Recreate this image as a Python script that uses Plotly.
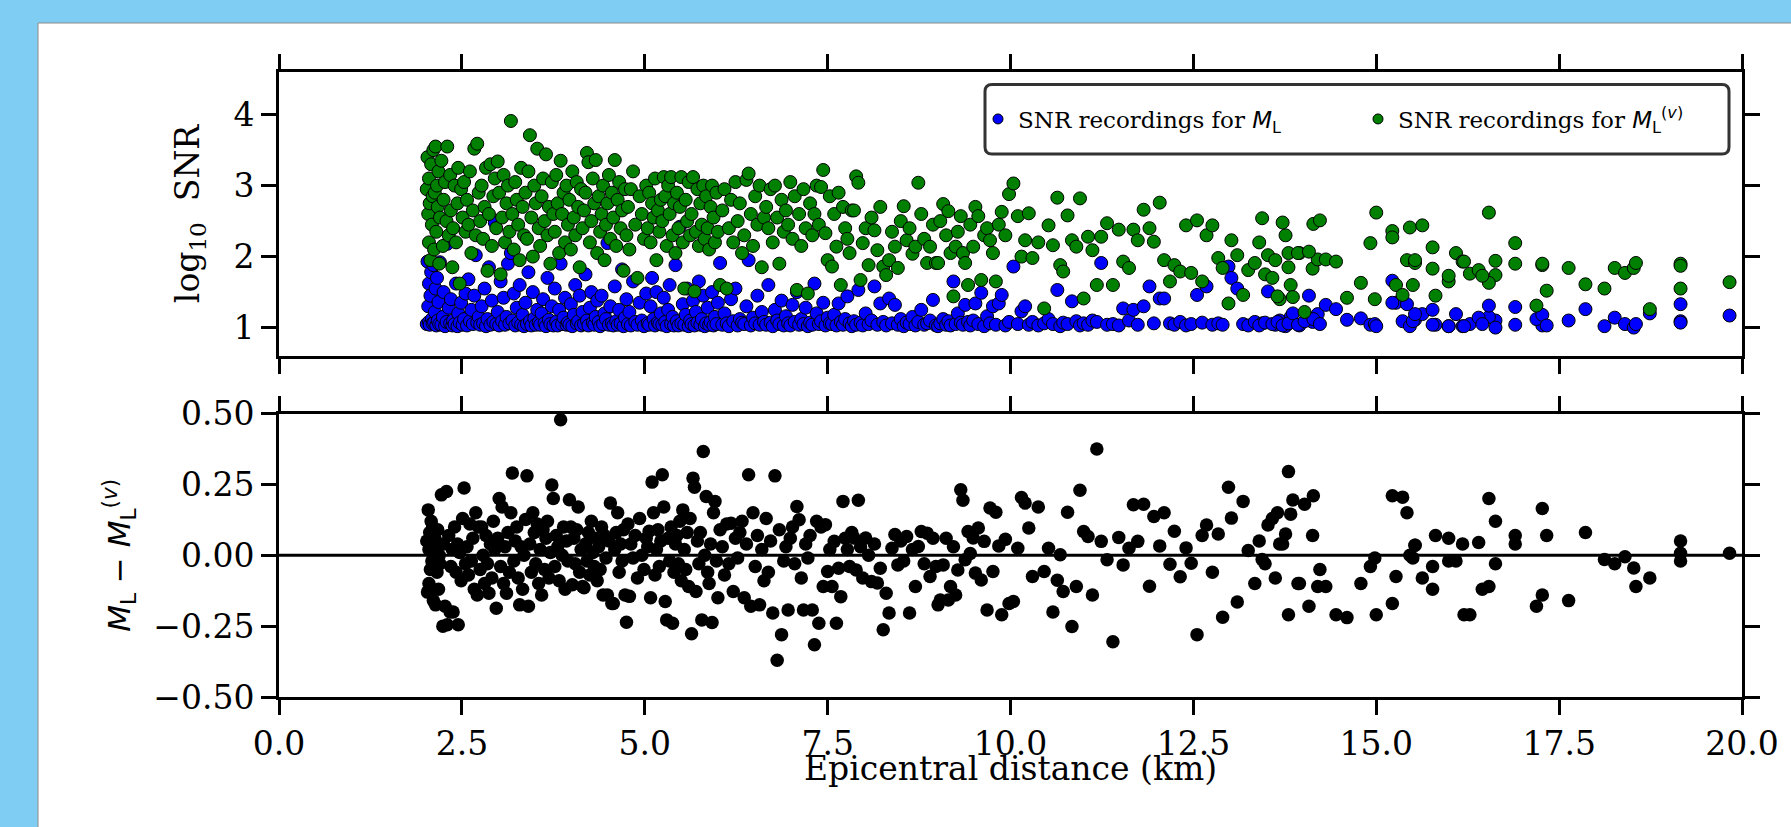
import plotly.graph_objects as go

# ---------------- data ----------------
distance_km = [
    2.02, 2.03, 2.04, 2.05, 2.05, 2.06, 2.07, 2.08, 2.09, 2.10,
    2.11, 2.12, 2.13, 2.14, 2.15, 2.16, 2.17, 2.18, 2.19, 2.20,
    2.22, 2.24, 2.25, 2.27, 2.29, 2.30, 2.32, 2.34, 2.35, 2.37,
    2.38, 2.40, 2.42, 2.44, 2.45, 2.47, 2.49, 2.51, 2.53, 2.55,
    2.57, 2.59, 2.61, 2.63, 2.65, 2.67, 2.69, 2.71, 2.73, 2.75,
    2.77, 2.79, 2.81, 2.83, 2.85, 2.87, 2.89, 2.91, 2.93, 2.95,
    2.97, 2.99, 3.01, 3.03, 3.05, 3.07, 3.09, 3.11, 3.13, 3.15,
    3.17, 3.19, 3.21, 3.23, 3.25, 3.27, 3.29, 3.31, 3.33, 3.35,
    3.37, 3.39, 3.41, 3.43, 3.45, 3.47, 3.49, 3.51, 3.53, 3.55,
    3.57, 3.59, 3.61, 3.63, 3.65, 3.67, 3.69, 3.71, 3.73, 3.75,
    3.77, 3.79, 3.81, 3.83, 3.85, 3.87, 3.89, 3.91, 3.93, 3.95,
    3.97, 3.99, 4.01, 4.03, 4.05, 4.07, 4.09, 4.11, 4.13, 4.15,
    4.17, 4.19, 4.21, 4.23, 4.25, 4.27, 4.29, 4.31, 4.33, 4.35,
    4.37, 4.39, 4.41, 4.43, 4.45, 4.47, 4.49, 4.51, 4.53, 4.55,
    4.57, 4.59, 4.61, 4.63, 4.65, 4.67, 4.69, 4.71, 4.73, 4.75,
    4.77, 4.79, 4.81, 4.84, 4.87, 4.90, 4.93, 4.96, 4.99, 5.02,
    5.04, 5.06, 5.08, 5.10, 5.12, 5.14, 5.16, 5.18, 5.20, 5.22,
    5.24, 5.26, 5.28, 5.30, 5.32, 5.34, 5.36, 5.38, 5.40, 5.42,
    5.44, 5.46, 5.48, 5.50, 5.52, 5.54, 5.56, 5.58, 5.60, 5.62,
    5.64, 5.66, 5.68, 5.70, 5.72, 5.74, 5.76, 5.78, 5.80, 5.82,
    5.84, 5.86, 5.88, 5.90, 5.92, 5.94, 5.96, 5.98, 6.00, 6.03,
    6.06, 6.09, 6.12, 6.15, 6.18, 6.21, 6.24, 6.27, 6.30, 6.33,
    6.36, 6.39, 6.42, 6.45, 6.48, 6.51, 6.54, 6.57, 6.60, 6.63,
    6.66, 6.69, 6.72, 6.75, 6.78, 6.81, 6.84, 6.87, 6.90, 6.93,
    6.96, 6.99, 7.02, 7.05, 7.08, 7.11, 7.14, 7.17, 7.20, 7.23,
    7.26, 7.29, 7.32, 7.35, 7.38, 7.41, 7.44, 7.47, 7.50, 7.53,
    7.56, 7.59, 7.62, 7.65, 7.68, 7.71, 7.74, 7.77, 7.80, 7.83,
    7.86, 7.89, 7.92, 7.95, 7.98, 8.02, 8.06, 8.10, 8.14, 8.18,
    8.22, 8.26, 8.30, 8.34, 8.38, 8.42, 8.46, 8.50, 8.54, 8.58,
    8.62, 8.66, 8.70, 8.74, 8.78, 8.82, 8.86, 8.90, 8.94, 8.98,
    9.01, 9.04, 9.08, 9.12, 9.15, 9.18, 9.22, 9.25, 9.28, 9.32,
    9.35, 9.38, 9.42, 9.45, 9.49, 9.52, 9.56, 9.60, 9.64, 9.68,
    9.72, 9.76, 9.80, 9.84, 9.88, 9.93, 9.98, 10.04, 10.10, 10.15,
    10.20, 10.25, 10.30, 10.38, 10.46, 10.52, 10.58, 10.64, 10.68, 10.72,
    10.78, 10.84, 10.90, 10.95, 11.00, 11.06, 11.12, 11.18, 11.24, 11.32,
    11.40, 11.48, 11.54, 11.62, 11.68, 11.74, 11.82, 11.90, 11.96, 12.04,
    12.10, 12.18, 12.24, 12.32, 12.40, 12.47, 12.55, 12.62, 12.68, 12.76,
    12.84, 12.90, 12.98, 13.02, 13.10, 13.18, 13.25, 13.34, 13.44, 13.52,
    13.40, 13.48, 13.62, 13.68, 13.76, 13.80, 13.83, 13.95, 14.13, 14.20,
    13.58, 13.65, 13.72, 13.80, 13.86, 13.93, 14.02, 14.08, 14.14, 14.23,
    14.31, 14.45, 14.60, 14.79, 14.92, 14.98, 15.00, 15.22, 15.27, 15.36,
    15.42, 15.46, 15.53, 15.63, 15.77, 15.81, 15.99, 16.09, 16.18, 16.28,
    15.22, 15.50, 15.53, 15.77, 15.99, 16.20, 16.63, 16.90, 16.54, 17.27,
    16.40, 16.45, 16.54, 16.63, 16.90, 17.19, 17.27, 17.33, 17.63, 17.86,
    18.12, 18.26, 18.40, 18.52, 18.55, 18.74, 19.16, 19.16, 19.16, 19.83,
]

log_snr_ml = [
    1.05, 1.93, 1.30, 1.08, 1.62, 1.04, 1.45, 1.78, 1.12, 1.06,
    1.88, 1.07, 1.22, 1.55, 1.03, 1.70, 1.10, 1.36, 1.05, 1.92,
    1.04, 1.15, 1.50, 1.02, 1.08, 2.18, 1.28, 1.06, 1.40, 1.03,
    1.10, 1.05, 1.62, 1.02, 1.20, 1.07, 1.35, 1.04, 1.12, 1.48,
    1.03, 1.68, 1.09, 1.25, 1.05, 1.45, 2.02, 1.07, 1.15, 1.04,
    1.30, 1.06, 1.55, 1.02, 1.12, 1.85, 1.04, 1.38, 1.08, 2.48,
    1.05, 1.22, 1.03, 1.65, 1.09, 1.42, 1.04, 1.15, 1.90, 1.06,
    2.05, 1.10, 1.48, 1.03, 1.28, 1.07, 1.60, 1.04, 1.18, 1.02,
    1.35, 1.05, 1.78, 1.09, 1.03, 1.50, 1.13, 1.04, 1.25, 1.07,
    1.04, 1.20, 1.40, 1.06, 1.02, 1.70, 1.11, 1.05, 1.30, 1.03,
    1.55, 1.08, 1.03, 1.25, 1.90, 1.05, 1.14, 1.42, 1.04, 1.07,
    1.04, 1.33, 1.02, 1.18, 1.60, 1.06, 1.09, 1.45, 1.03, 1.22,
    1.05, 1.75, 1.10, 1.03, 1.28, 1.50, 1.07, 1.04, 1.15, 1.38,
    1.08, 1.02, 1.45, 1.05, 1.20, 1.12, 2.19, 1.04, 1.30, 1.06,
    1.03, 1.58, 1.09, 1.04, 1.25, 1.06, 1.82, 1.02, 1.14, 1.40,
    1.05, 1.22, 1.03, 1.65, 1.08, 1.04, 1.35, 1.10, 1.02, 1.48,
    1.06, 1.04, 1.30, 1.70, 1.12, 1.03, 1.50, 1.07, 1.05, 1.20,
    1.04, 1.42, 1.08, 1.02, 1.25, 1.60, 1.05, 1.15, 1.03, 1.88,
    1.09, 1.03, 2.42, 1.06, 1.33, 1.04, 1.18, 1.55, 1.02, 1.10,
    1.05, 1.38, 1.03, 1.22, 1.07, 1.65, 1.04, 1.12, 1.45, 1.02,
    1.06, 1.28, 1.04, 1.08, 1.50, 1.03, 1.15, 1.05, 1.35, 1.91,
    1.04, 1.20, 1.06, 1.02, 1.40, 1.09, 1.55, 1.03, 1.12, 1.07,
    1.05, 1.30, 1.95, 1.03, 1.14, 1.06, 1.45, 1.04, 1.22, 1.08,
    1.04, 1.60, 1.07, 1.02, 1.25, 1.10, 1.05, 1.38, 1.03, 1.16,
    1.06, 1.03, 1.32, 1.08, 1.50, 1.04, 1.12, 1.05, 1.28, 1.02,
    1.07, 1.04, 1.62, 1.20, 1.05, 1.09, 1.35, 1.03, 1.14, 1.06,
    1.05, 1.18, 1.03, 1.34, 1.08, 1.04, 1.12, 1.44, 1.06, 1.02,
    1.09, 1.04, 1.53, 1.07, 1.03, 1.20, 1.05, 1.10, 1.58, 1.04,
    1.34, 1.08, 1.03, 1.41, 1.06, 1.32, 1.04, 1.12, 1.02, 1.07,
    1.05, 1.15, 1.03, 1.08, 1.25, 1.04, 1.06, 1.10, 1.39, 1.03,
    1.02, 1.06, 1.12, 1.04, 1.09, 1.03, 1.65, 1.05, 1.20, 1.07,
    1.04, 1.32, 1.08, 1.03, 1.10, 1.34, 1.05, 1.49, 1.02, 1.16,
    1.06, 1.30, 1.04, 1.34, 1.46, 1.03, 1.08, 1.86, 1.05, 1.23,
    1.30, 1.04, 1.08, 1.03, 1.06, 1.12, 1.05, 1.53, 1.02, 1.07,
    1.05, 1.37, 1.09, 1.03, 1.06, 1.04, 1.10, 1.08, 1.91, 1.04,
    1.05, 1.03, 1.27, 1.10, 1.25, 1.04, 1.30, 1.58, 1.06, 1.41,
    1.41, 1.06, 1.04, 1.08, 1.03, 1.05, 1.46, 1.07, 1.58, 1.04,
    1.06, 1.04, 1.86, 1.70, 1.55, 1.05, 1.03, 1.08, 1.06, 1.51,
    1.03, 1.07, 1.04, 1.10, 1.02, 1.06, 1.15, 1.03, 1.08, 1.19,
    1.05, 1.08, 1.03, 1.06, 1.20, 1.04, 1.09, 1.45, 1.12, 1.05,
    1.32, 1.26, 1.11, 1.13, 1.04, 1.05, 1.02, 1.66, 1.35, 1.09,
    1.33, 1.02, 1.11, 1.19, 1.25, 1.04, 1.02, 1.19, 1.02, 1.05,
    1.35, 1.09, 1.19, 1.04, 1.02, 1.02, 1.10, 1.04, 1.15, 1.03,
    1.14, 1.05, 1.31, 1.00, 1.29, 1.12, 1.18, 1.03, 1.10, 1.26,
    1.02, 1.14, 1.05, 1.00, 1.05, 1.20, 1.33, 1.09, 1.07, 1.17,
]

log_snr_mlv = [
    2.95, 3.40, 2.60, 2.20, 3.10, 2.75, 1.95, 3.30, 2.45, 2.85,
    3.50, 2.10, 2.90, 3.55, 2.35, 3.00, 2.70, 3.20, 1.90, 2.55,
    3.35, 2.15, 2.80, 3.05, 2.50, 3.55, 2.30, 3.15, 2.65, 1.85,
    2.40, 3.00, 2.20, 2.75, 3.25, 1.62, 2.95, 2.55, 3.05, 2.35,
    2.80, 2.45, 3.20, 2.05, 2.65, 3.52, 2.30, 3.59, 2.90, 2.50,
    3.00, 2.25, 2.70, 3.25, 1.80, 2.60, 3.30, 2.15, 2.85, 3.10,
    2.40, 3.34, 2.90, 1.75, 2.55, 3.15, 2.20, 2.75, 3.00, 2.35,
    3.91, 2.60, 2.10, 3.05, 2.80, 2.45, 1.95, 3.25, 2.70, 2.30,
    2.90, 2.25, 3.20, 3.71, 2.55, 2.00, 3.00, 2.75, 3.52, 2.40,
    2.15, 2.85, 3.10, 2.50, 3.44, 2.30, 2.70, 1.90, 3.05, 2.60,
    2.35, 3.15, 2.75, 2.05, 3.35, 2.60, 2.90, 2.20, 3.00, 2.45,
    2.80, 2.10, 3.20, 2.55, 2.30, 3.05, 2.70, 1.85, 2.95, 2.40,
    2.65, 2.90, 3.46, 3.33, 2.20, 2.50, 3.10, 2.75, 3.36, 2.05,
    2.85, 2.35, 2.60, 3.00, 1.95, 2.45, 2.75, 3.15, 2.25, 2.90,
    2.55, 3.36, 2.15, 2.80, 3.05, 2.40, 2.65, 1.80, 2.95, 2.30,
    2.70, 2.10, 2.95, 3.20, 2.45, 1.70, 2.85, 2.60, 2.25, 3.00,
    2.40, 2.90, 2.20, 2.75, 2.55, 3.10, 1.95, 2.65, 2.35, 2.80,
    2.50, 3.12, 2.85, 2.15, 3.00, 2.60, 3.12, 2.30, 2.75, 2.05,
    2.90, 2.40, 2.70, 3.12, 2.20, 1.55, 2.80, 2.50, 3.05, 2.30,
    2.60, 3.12, 1.51, 2.35, 2.95, 2.15, 2.75, 2.45, 3.00, 2.25,
    2.85, 2.40, 2.10, 2.70, 3.00, 2.55, 2.20, 2.90, 2.35, 1.60,
    2.65, 2.95, 1.55, 2.40, 2.80, 2.20, 3.05, 2.50, 2.75, 2.05,
    2.30, 3.08, 3.17, 2.60, 2.15, 2.85, 2.45, 3.00, 1.85, 2.55,
    2.70, 2.40, 2.95, 2.20, 3.00, 2.55, 1.90, 2.80, 2.35, 2.65,
    2.45, 3.05, 2.25, 2.85, 1.53, 2.60, 2.15, 2.95, 2.40, 1.48,
    2.75, 2.30, 2.60, 3.00, 2.45, 2.98, 3.22, 2.33, 1.95, 2.85,
    1.86, 2.60, 2.14, 2.90, 1.60, 2.70, 2.40, 2.25, 2.05, 2.65,
    2.65, 3.13, 3.04, 1.67, 2.19, 2.40, 1.88, 2.55, 2.37, 2.09,
    2.70, 1.86, 1.74, 1.95, 2.35, 2.14, 1.84, 2.50, 2.71, 2.23,
    2.40, 2.04, 2.14, 3.04, 2.60, 2.25, 1.91, 2.14, 2.45, 1.91,
    1.91, 2.50, 2.74, 2.30, 2.64, 2.05, 1.44, 2.14, 2.35, 2.57,
    2.05, 1.91, 1.60, 2.45, 2.14, 2.70, 2.57, 1.67, 2.30, 2.40,
    2.23, 2.05, 1.65, 2.45, 2.63, 2.30, 2.88, 3.03, 2.57, 2.00,
    2.23, 2.61, 1.98, 2.20, 1.27, 2.44, 2.16, 2.83, 1.88, 1.79,
    2.58, 2.23, 2.14, 2.82, 1.41, 2.28, 2.09, 1.60, 2.28, 2.47,
    1.60, 2.38, 1.93, 1.84, 2.38, 2.23, 2.66, 2.40, 2.21, 2.76,
    1.95, 1.65, 1.88, 1.79, 2.44, 1.77, 2.51, 1.65, 2.30, 2.44,
    1.98, 1.84, 1.34, 2.23, 2.02, 1.46, 1.81, 1.91, 2.54, 2.02,
    2.20, 1.75, 1.95, 1.40, 2.30, 1.85, 1.60, 2.05, 1.83, 1.96,
    1.70, 1.44, 2.48, 2.05, 1.43, 2.05, 1.22, 2.07, 2.46, 2.51,
    1.96, 1.93, 1.42, 1.63, 2.19, 1.40, 2.62, 2.36, 1.60, 1.46,
    1.95, 2.41, 1.91, 2.44, 2.13, 1.45, 1.65, 2.05, 1.93, 1.76,
    2.27, 1.60, 1.95, 1.83, 1.73, 1.93, 1.74, 1.90, 1.63, 1.88,
    1.81, 1.73, 2.62, 1.94, 2.19, 1.31, 1.90, 1.52, 1.84, 1.61,
    1.55, 1.84, 1.77, 1.84, 1.91, 1.26, 1.90, 1.55, 1.87, 1.64,
]

ml_minus_mlv = [
    0.05, -0.13, 0.16, 0.02, -0.10, 0.08, -0.05, 0.12, -0.02, 0.10,
    -0.16, 0.01, 0.06, -0.175, 0.03, -0.06, 0.09, -0.12, 0.00, -0.03,
    0.213, -0.25, 0.04, -0.18, 0.225, -0.245, 0.07, -0.20, -0.04, 0.02,
    -0.20, 0.10, -0.06, 0.04, -0.245, 0.01, -0.09, 0.13, 0.237, -0.03,
    0.03, -0.07, 0.11, -0.02, 0.06, -0.12, 0.15, -0.14, 0.10, -0.05,
    0.10, 0.00, -0.10, 0.07, -0.03, -0.134, 0.04, -0.08, 0.12, 0.02,
    -0.187, 0.06, 0.20, -0.04, 0.17, -0.10, 0.03, -0.134, 0.08, -0.06,
    0.15, 0.29, -0.02, 0.05, 0.10, -0.08, -0.175, 0.03, -0.12, 0.00,
    0.126, 0.28, -0.18, 0.04, -0.06, 0.15, 0.08, -0.03, 0.11, -0.10,
    0.02, -0.14, 0.09, -0.05, 0.06, 0.12, -0.08, 0.01, 0.248, 0.20,
    -0.04, 0.07, 0.03, -0.09, 0.478, 0.00, 0.10, -0.12, 0.05, -0.02,
    0.196, 0.10, -0.104, 0.06, -0.03, 0.09, 0.17, -0.06, 0.02, -0.11,
    -0.115, 0.04, -0.02, 0.08, -0.07, 0.12, 0.01, -0.04, 0.06, -0.09,
    0.03, -0.05, 0.10, -0.14, 0.07, -0.01, -0.14, 0.05, 0.184, -0.17,
    -0.17, 0.02, 0.08, 0.15, -0.06, 0.04, -0.02, 0.09, -0.14, -0.236,
    0.11, -0.145, 0.04, -0.01, 0.07, -0.08, 0.13, 0.00, -0.05, 0.06,
    0.03, 0.085, -0.15, 0.258, 0.15, -0.07, 0.02, 0.09, -0.04, 0.05,
    0.284, 0.17, -0.163, -0.228, 0.06, -0.02, 0.10, -0.24, -0.06, 0.04,
    0.07, -0.03, 0.12, -0.09, 0.16, 0.02, -0.05, 0.08, -0.11, 0.13,
    -0.277, 0.272, 0.24, -0.128, 0.05, -0.03, 0.08, -0.228, 0.366, 0.00,
    0.207, -0.06, -0.10, 0.04, -0.237, 0.15, 0.19, -0.02, -0.15, 0.09,
    0.03, -0.07, 0.11, -0.03, 0.113, -0.128, 0.06, -0.01, 0.08, 0.12,
    -0.15, 0.04, 0.284, -0.18, 0.15, -0.04, 0.07, -0.175, 0.02, -0.09,
    0.13, -0.06, 0.05, -0.204, 0.28, -0.37, 0.09, -0.28, -0.02, 0.03,
    -0.193, 0.06, 0.10, -0.03, 0.172, 0.125, -0.08, -0.193, 0.04, -0.01,
    0.07, -0.193, -0.316, 0.12, -0.24, 0.10, -0.11, 0.108, -0.057, 0.02,
    -0.11, 0.049, -0.24, -0.046, -0.146, 0.19, 0.06, 0.02, -0.04, 0.08,
    0.061, -0.052, 0.194, 0.03, -0.08, 0.061, 0.00, -0.093, 0.04, -0.098,
    -0.046, -0.263, -0.134, -0.204, 0.025, 0.073, -0.034, 0.05, -0.02, 0.066,
    -0.204, 0.02, -0.11, 0.031, 0.084, -0.03, 0.078, -0.075, 0.06, -0.04,
    -0.175, -0.158, -0.034, 0.06, -0.158, -0.11, 0.03, -0.14, -0.052, 0.231,
    0.194, -0.016, 0.084, 0.006, 0.061, -0.063, 0.096, -0.087, 0.049, -0.193,
    0.167, -0.057, 0.152, 0.033, -0.21, 0.056, -0.17, -0.163, 0.025, 0.204,
    0.184, 0.096, -0.075, 0.17, -0.057, 0.025, -0.20, -0.088, 0.002, -0.128,
    0.152, -0.251, -0.11, 0.229, 0.084, 0.066, -0.14, 0.375, 0.049, -0.016,
    -0.305, 0.063, -0.034, 0.025, 0.178, 0.049, 0.18, -0.109, 0.137, 0.033,
    0.15, -0.032, 0.085, -0.076, 0.026, -0.028, -0.28, 0.07, 0.107, -0.06,
    0.075, -0.219, 0.24, 0.131, -0.165, 0.19, 0.017, -0.10, -0.015, 0.107,
    0.05, -0.03, -0.08, 0.04, 0.075, -0.21, 0.145, -0.10, 0.07, -0.11,
    0.13, 0.15, 0.04, 0.295, 0.195, -0.10, 0.18, -0.18, 0.21, -0.05,
    -0.11, -0.21, -0.22, -0.10, -0.04, -0.01, -0.21, 0.21, -0.075, 0.205,
    0.15, 0.00, 0.035, -0.08, -0.04, 0.07, 0.06, -0.02, 0.04, -0.21,
    -0.17, -0.01, 0.035, -0.12, -0.02, -0.21, -0.03, 0.04, -0.11, -0.14,
    0.045, -0.12, 0.20, 0.12, 0.07, -0.18, 0.165, 0.07, -0.16, 0.08,
    -0.015, -0.03, -0.005, -0.045, -0.11, -0.08, 0.05, 0.007, -0.02, 0.007,
]

x_tick_values = [0.0, 2.5, 5.0, 7.5, 10.0, 12.5, 15.0, 17.5, 20.0]
snr_tick_values = [1, 2, 3, 4]
diff_tick_values = [-0.5, -0.25, 0.0, 0.25, 0.5]
diff_tick_labels = ["\u22120.50", "\u22120.25", "0.00", "0.25", "0.50"]

# ---------------- geometry (pixels) ----------------
W, H = 1791, 827
ML, MR, MT, MB = 279, 49, 72, 130
PW, PH = W - ML - MR, H - MT - MB


def px_x(px):
    return (px - ML) / PW


def px_y(py):
    return (H - MB - py) / PH


SERIF = "DejaVu Serif"
MATH = "DejaVu Sans"

fig = go.Figure()

fig.add_trace(go.Scatter(
    x=distance_km, y=log_snr_ml, mode="markers", xaxis="x", yaxis="y",
    marker=dict(size=13, color="#0000ff", line=dict(color="black", width=1)),
    showlegend=False, hoverinfo="skip"))
fig.add_trace(go.Scatter(
    x=distance_km, y=log_snr_mlv, mode="markers", xaxis="x", yaxis="y",
    marker=dict(size=13, color="#008000", line=dict(color="black", width=1)),
    showlegend=False, hoverinfo="skip"))
fig.add_trace(go.Scatter(
    x=distance_km, y=ml_minus_mlv, mode="markers", xaxis="x2", yaxis="y2",
    marker=dict(size=13.5, color="black", line=dict(width=0)),
    showlegend=False, hoverinfo="skip"))

# legend entries
m_l = f"<span style='font-family:{MATH}'><i>M</i><sub>L</sub></span>"
m_lv = f"<span style='font-family:{MATH}'><i>M</i><sub>L</sub><sup>(<i>v</i>)</sup></span>"
fig.add_trace(go.Scatter(
    x=[None], y=[None], mode="markers", xaxis="x", yaxis="y",
    marker=dict(size=10, color="#0000ff", line=dict(color="black", width=1)),
    name="SNR recordings for " + m_l))
fig.add_trace(go.Scatter(
    x=[None], y=[None], mode="markers", xaxis="x", yaxis="y",
    marker=dict(size=10, color="#008000", line=dict(color="black", width=1)),
    name="SNR recordings for " + m_lv))

top_bottom_px = 356
bot_top_px = 413.5

axis_common = dict(
    showline=True, linecolor="black", linewidth=3, mirror="ticks",
    ticks="outside", ticklen=15, tickwidth=3, tickcolor="black",
    showgrid=False, zeroline=False,
    tickfont=dict(family=SERIF, size=33, color="black"),
)

fig.update_layout(
    width=W, height=H,
    margin=dict(l=ML, r=MR, t=MT, b=MB, pad=0),
    paper_bgcolor="#7fcdf2", plot_bgcolor="white",
    font=dict(family=SERIF, size=33, color="black"),
    xaxis=dict(domain=[0, 1], anchor="y", range=[0, 20],
               tickvals=x_tick_values, showticklabels=False, **axis_common),
    yaxis=dict(domain=[px_y(top_bottom_px), 1], anchor="x", range=[0.6, 4.6],
               tickvals=snr_tick_values,
               title=dict(text="log<sub>10</sub>  SNR", standoff=24,
                          font=dict(family=SERIF, size=33)),
               **axis_common),
    xaxis2=dict(domain=[0, 1], anchor="y2", range=[0, 20],
                tickvals=x_tick_values, tickformat=".1f",
                **axis_common),
    yaxis2=dict(domain=[0, px_y(bot_top_px)], anchor="x2", range=[-0.5, 0.5],
                tickvals=diff_tick_values, ticktext=diff_tick_labels,
                title=dict(text=f"<span style='font-family:{MATH}'><i>M</i><sub>L</sub> \u2212 <i>M</i><sub>L</sub><sup>(<i>v</i>)</sup></span>",
                           standoff=14, font=dict(family=MATH, size=31)),
                **axis_common),
    legend=dict(orientation="h", x=px_x(978), xanchor="left",
                y=px_y(119), yanchor="middle",
                bgcolor="rgba(0,0,0,0)", borderwidth=0,
                font=dict(family=SERIF, size=23, color="black"),
                entrywidth=335, itemsizing="trace"),
    showlegend=True,
)

# x-axis title placed like the reference
fig.add_annotation(text="Epicentral distance (km)", xref="paper", yref="paper",
                   x=0.5, y=px_y(768), xanchor="center", yanchor="middle",
                   showarrow=False, font=dict(family=SERIF, size=33, color="black"))

# white page inset behind the figure
fig.add_shape(type="rect", xref="paper", yref="paper",
              x0=px_x(38), x1=px_x(W + 5), y0=px_y(H + 5), y1=px_y(23),
              fillcolor="white", line=dict(color="#8a8a8a", width=1),
              layer="below")

# zero line in the lower panel
fig.add_shape(type="line", xref="x2 domain", yref="y2",
              x0=0, x1=1, y0=0, y1=0,
              line=dict(color="black", width=3), layer="above")

# rounded legend frame
lx0, lx1 = px_x(985), px_x(1729)
ly0, ly1 = px_y(154), px_y(84.5)
rx, ry = 7 / PW, 7 / PH
path = (f"M {lx0+rx},{ly0} L {lx1-rx},{ly0} Q {lx1},{ly0} {lx1},{ly0+ry} "
        f"L {lx1},{ly1-ry} Q {lx1},{ly1} {lx1-rx},{ly1} "
        f"L {lx0+rx},{ly1} Q {lx0},{ly1} {lx0},{ly1-ry} "
        f"L {lx0},{ly0+ry} Q {lx0},{ly0} {lx0+rx},{ly0} Z")
fig.add_shape(type="path", xref="paper", yref="paper", path=path,
              fillcolor="white", line=dict(color="#333333", width=3),
              layer="above")

fig.write_html("out.html", config={"displayModeBar": False},
               post_script="document.body.style.margin='0';document.body.style.overflow='hidden';")
